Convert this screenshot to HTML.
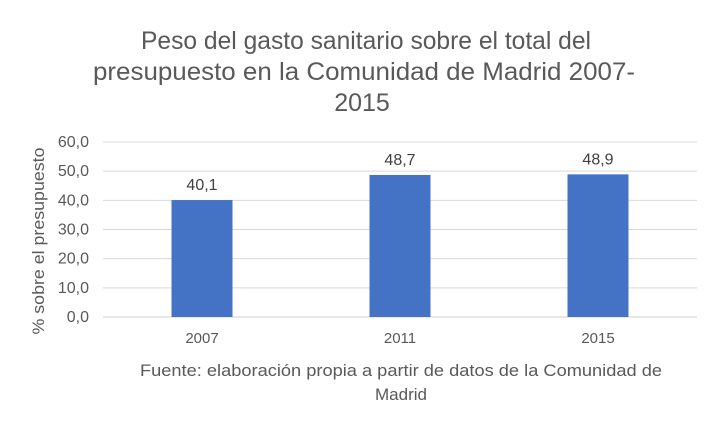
<!DOCTYPE html>
<html><head><meta charset="utf-8"><style>
body{margin:0;background:#fff;}
svg text{font-family:"Liberation Sans",sans-serif;}
</style></head><body>
<svg width="714" height="426" xmlns="http://www.w3.org/2000/svg">
<g fill="#595959" font-size="25" text-anchor="middle">
<text x="366" y="49" textLength="450" lengthAdjust="spacingAndGlyphs">Peso del gasto sanitario sobre el total del</text>
<text x="364" y="80" textLength="542" lengthAdjust="spacingAndGlyphs">presupuesto en la Comunidad de Madrid 2007-</text>
<text x="362" y="111">2015</text>
</g>
<g id="grid"></g><g id="bars"></g>
<text transform="translate(44,241) rotate(-90)" text-anchor="middle" font-size="17" fill="#595959" textLength="187" lengthAdjust="spacingAndGlyphs">% sobre el presupuesto</text>
<g fill="#595959" font-size="17" text-anchor="middle">
<text x="401" y="376" textLength="522" lengthAdjust="spacingAndGlyphs">Fuente: elaboración propia a partir de datos de la Comunidad de</text>
<text x="401" y="400">Madrid</text>
</g>
</svg>
<script>
const categories=["2007","2011","2015"];
const values=[40.1,48.7,48.9];
const labels=["40,1","48,7","48,9"];
const ticks=[0,10,20,30,40,50,60];
const tickLabels=["0,0","10,0","20,0","30,0","40,0","50,0","60,0"];
const NS="http://www.w3.org/2000/svg";
const L=103,R=697,T=142,B=317;
const y=v=>B-(v/60)*(B-T);
const bw=(R-L)/categories.length;
const x=i=>L+bw*(i+0.5);
function mk(t,a,p,txt){const e=document.createElementNS(NS,t);for(const k in a)e.setAttribute(k,a[k]);if(txt!==undefined)e.textContent=txt;p.appendChild(e);return e;}
const g=document.getElementById('grid'),b=document.getElementById('bars');
ticks.forEach((t,i)=>{
 const ln=mk('line',{x1:L,x2:R,y1:y(t),y2:y(t),stroke:t===0?'#d0d0d0':'#d9d9d9','stroke-width':1},g);
 
 
 const tx=mk('text',{x:L-14,y:y(t)+5,'text-anchor':'end','font-size':16,fill:'#595959'},g,tickLabels[i]);
 
 
});
categories.forEach((c,i)=>{
 const r=mk('rect',{x:x(i)-30.5,y:y(values[i]),width:61,height:B-y(values[i]),fill:'#4472c4'},b);
 
 
 const v=mk('text',{x:x(i),y:y(values[i])-10,'text-anchor':'middle','font-size':16,fill:'#404040'},b,labels[i]);
 
 
 const cl=mk('text',{x:x(i),y:B+26,'text-anchor':'middle','font-size':15,fill:'#595959'},b,c);
 
 
});
</script>
</body></html>
